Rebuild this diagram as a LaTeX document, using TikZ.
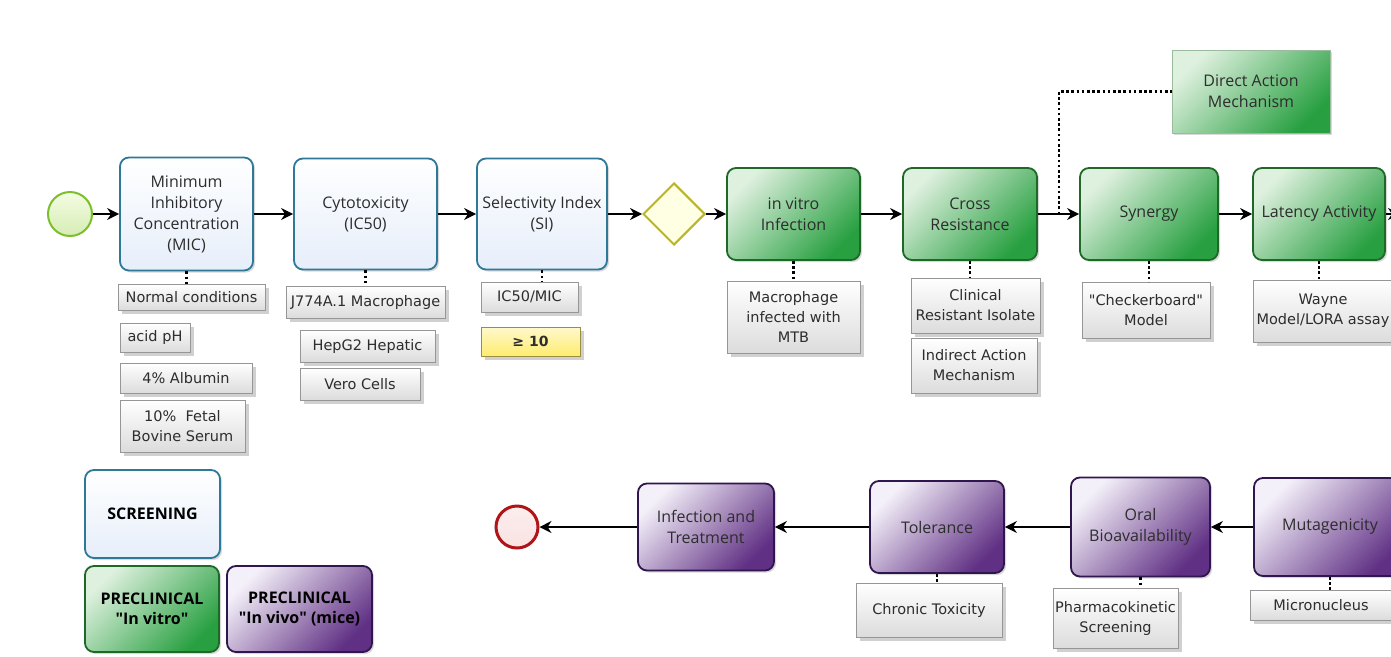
\documentclass[tikz,border=0pt]{standalone}
\usepackage{fontspec}
\setmainfont{Open Sans}
\newfontfamily\notefont{DejaVu Sans}
\usepackage{tikz}
\usetikzlibrary{arrows.meta,shapes.geometric,shadows}
\definecolor{screenblue}{RGB}{46,120,152}
\definecolor{screenfill}{RGB}{230,238,250}
\definecolor{vitroline}{RGB}{30,105,40}
\definecolor{vitrolight}{RGB}{222,240,222}
\definecolor{vitrodark}{RGB}{40,160,65}
\definecolor{vivoline}{RGB}{48,22,78}
\definecolor{vivolight}{RGB}{244,240,249}
\definecolor{vivodark}{RGB}{96,48,132}
\definecolor{startgreen}{RGB}{125,190,45}
\definecolor{startfill}{RGB}{244,252,226}
\definecolor{stopred}{RGB}{175,20,25}
\definecolor{stopfill}{RGB}{250,226,226}
\definecolor{gateyellow}{RGB}{185,180,40}
\definecolor{gatefill}{RGB}{255,255,228}
\definecolor{noteline}{RGB}{150,150,150}
\definecolor{notefill}{RGB}{220,220,220}
\definecolor{sifill}{RGB}{255,236,110}
\definecolor{inktext}{RGB}{45,45,45}

\begin{document}
\begin{tikzpicture}[x=1pt,y=-1pt]

		\tikzset{
			dims/.style 2 args={minimum width=#1pt, minimum height=#2pt},
			stage/.style={rounded corners=9pt, line width=1.8pt, align=center, inner sep=2pt,
				text=inktext, font=\fontsize{16}{21}\selectfont,
				drop shadow={shadow xshift=2pt, shadow yshift=-2pt, opacity=0.15, fill=black}},
			screen/.style={stage, draw=screenblue, top color=white, bottom color=screenfill},
			vitro/.style={stage, draw=vitroline, top color=vitrolight, bottom color=vitrodark, shading angle=45},
			vivo/.style={stage, draw=vivoline, top color=vivolight, bottom color=vivodark, shading angle=45},
			note/.style={draw=noteline, line width=0.6pt, top color=white, bottom color=notefill,
				align=center, inner sep=2pt, text=inktext, font=\notefont\fontsize{14.5}{20}\selectfont,
				drop shadow={shadow xshift=4pt, shadow yshift=-4pt, opacity=0.3, fill=black!60}},
			legend/.style={text=black, font=\bfseries\fontsize{16}{20}\selectfont},
			flow/.style={line width=1.3pt, -{Stealth[length=12pt,width=12pt]}},
			assoc/.style={line width=2.6pt, dash pattern=on 2.6pt off 2.6pt}
		}

		% page
		\useasboundingbox (0,0) rectangle (1391,656);
		\fill[white] (0,0) rectangle (1391,656);
		\clip (0,0) rectangle (1391,656);

		% screening row
		\node[circle, draw=startgreen, line width=2pt, inner sep=0pt, minimum size=44pt,
			top color=startfill, bottom color=startfill!75!startgreen] (start) at (70,214) {};
		\node[screen, dims={133}{113}] (mic) at (186.5,214) {Minimum\\Inhibitory\\Concentration\\(MIC)};
		\node[screen, dims={143}{111}] (cyto) at (365.5,214) {Cytotoxicity\\(IC50)};
		\node[screen, dims={130}{111}] (si) at (542,214) {Selectivity Index\\(SI)};
		\node[diamond, draw=gateyellow, line width=2pt, fill=gatefill, inner sep=0pt,
			minimum width=62pt, minimum height=62pt] (gate) at (674,214) {};

		% in vitro row
		\node[vitro, dims={133}{92}] (invitro) at (793.5,214) {in vitro\\Infection};
		\node[vitro, dims={134}{92}] (cross) at (970,214) {Cross\\Resistance};
		\node[vitro, dims={138}{92}] (syn) at (1149,214) {Synergy};
		\node[vitro, dims={132}{92}] (lat) at (1319,214) {Latency Activity};
		\node[vitro, sharp corners, draw=vitroline!45, line width=0.8pt, dims={158}{83}] (direct) at (1251,91.5) {Direct Action\\Mechanism};
		\coordinate (onward) at (1400,214);

		\draw[flow] (start) -- (mic);
		\draw[flow] (mic) -- (cyto);
		\draw[flow] (cyto) -- (si);
		\draw[flow] (si) -- (gate);
		\draw[flow] (gate) -- (invitro);
		\draw[flow] (invitro) -- (cross);
		\draw[flow] (cross) -- (syn);
		\draw[flow] (syn) -- (lat);
		\draw[flow] (lat) -- (onward);
		\draw[assoc] (cross.east) -- ++(21,0) |- (direct.west);

		% annotations, top
		\node[note, dims={147}{26}] (mic1) at (191.5,297) {Normal conditions};
		\node[note, dims={70}{29}] (mic2) at (155,337.5) {acid pH};
		\node[note, dims={132}{30}] (mic3) at (186,378) {4\% Albumin};
		\node[note, dims={125}{52}] (mic4) at (182.5,426) {10\%\ \ Fetal\\Bovine Serum};
		\node[note, dims={159}{32}] (cyto1) at (365.5,302) {J774A.1 Macrophage};
		\node[note, dims={135}{32}] (cyto2) at (367.5,346) {HepG2 Hepatic};
		\node[note, dims={120}{32}] (cyto3) at (360,384) {Vero Cells};
		\node[note, dims={97}{30}] (si1) at (529.5,297) {IC50/MIC};
		\node[note, dims={99}{29}, top color=sifill!35, bottom color=sifill, draw=sifill!60!black,
			font=\notefont\bfseries\fontsize{14}{19}\selectfont] (si2) at (530.5,341.5) {≥ 10};
		\node[note, dims={133}{72}] (invitro1) at (793.5,317) {Macrophage\\infected with\\MTB};
		\node[note, dims={129}{55}] (cross1) at (975.5,305.5) {Clinical\\Resistant Isolate};
		\node[note, dims={126}{55}] (cross2) at (974,365.5) {Indirect Action\\Mechanism};
		\node[note, dims={128}{56}] (syn1) at (1146,310) {"Checkerboard"\\Model};
		\node[note, dims={140}{62}] (lat1) at (1323,311) {Wayne\\Model/LORA assay};

		\draw[assoc] (mic.south) -- (mic.south |- mic1.north);
		\draw[assoc] (cyto.south) -- (cyto.south |- cyto1.north);
		\draw[assoc] (si.south) -- (si.south |- si1.north);
		\draw[assoc] (invitro.south) -- (invitro.south |- invitro1.north);
		\draw[assoc] (cross.south) -- (cross.south |- cross1.north);
		\draw[assoc] (syn.south) -- (syn.south |- syn1.north);
		\draw[assoc] (lat.south) -- (lat.south |- lat1.north);

		% in vivo row
		\node[vivo, dims={152}{98}] (muta) at (1330,527) {Mutagenicity};
		\node[vivo, dims={139}{99}] (oral) at (1140.5,527) {Oral\\Bioavailability};
		\node[vivo, dims={134}{92}] (tol) at (937,527) {Tolerance};
		\node[vivo, dims={136}{87}] (infect) at (706,527) {Infection and\\Treatment};
		\node[circle, draw=stopred, line width=3pt, inner sep=0pt, minimum size=42pt,
			top color=stopfill!60, bottom color=stopfill] (stop) at (517,527) {};

		\draw[flow] (muta) -- (oral);
		\draw[flow] (oral) -- (tol);
		\draw[flow] (tol) -- (infect);
		\draw[flow] (infect) -- (stop);

		% annotations, bottom
		\node[note, dims={146}{54}] (tol1) at (929,610) {Chronic Toxicity};
		\node[note, dims={119}{60}] (oral1) at (1115.5,618) {Pharmacokinetic\\Screening};
		\node[note, dims={142}{30}] (muta1) at (1321,605) {Micronucleus};

		\draw[assoc] (tol.south) -- (tol.south |- tol1.north);
		\draw[assoc] (oral.south) -- (oral.south |- oral1.north);
		\draw[assoc] (muta.south) -- (muta.south |- muta1.north);

		% key
		\node[screen, legend, dims={135}{88}] (keyscreen) at (152.5,514) {SCREENING};
		\node[vitro, legend, dims={134}{86}] (keyvitro) at (152,609) {PRECLINICAL\\\textquotedbl In vitro\textquotedbl};
		\node[vivo, legend, dims={145}{86}] (keyvivo) at (299.5,609) {PRECLINICAL\\\textquotedbl In vivo\textquotedbl\ (mice)};

\end{tikzpicture}
\end{document}
